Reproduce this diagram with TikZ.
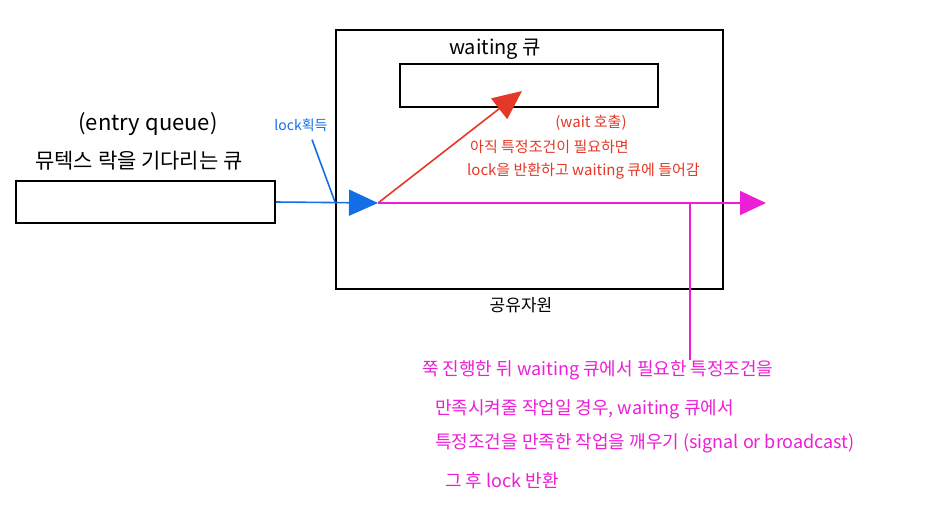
\documentclass[tikz,border=0pt]{standalone}
\usepackage{fontspec}
\setmainfont{Noto Sans CJK KR}
\usetikzlibrary{arrows.meta}
\definecolor{cblue}{RGB}{20,110,230}
\definecolor{cred}{RGB}{228,56,40}
\definecolor{cmag}{RGB}{236,30,214}
\tikzset{
  boxshape/.style={draw=black, line width=1.6pt, inner sep=0pt},
  lbl/.style={inner sep=0pt, text=black},
  redlbl/.style={inner sep=0pt, text=cred, font=\fontsize{15}{17}\selectfont, anchor=west},
  maglbl/.style={inner sep=0pt, text=cmag, font=\fontsize{18}{21}\selectfont, anchor=west},
  conn/.style={line width=1.6pt}
}
\begin{document}
\begin{tikzpicture}[x=1pt,y=-1pt]
\useasboundingbox (0,0) rectangle (951,520);
% boxes
\node[boxshape, minimum width=259pt, minimum height=42pt] (entry) at (145.5,202) {};
\node[boxshape, minimum width=387pt, minimum height=259pt] (res) at (529.5,159.5) {};
\node[boxshape, minimum width=258pt, minimum height=43pt] (wq) at (529,85.5) {};
% labels
\node[lbl, font=\fontsize{22}{24}\selectfont] (eq) at (148,124) {(entry queue)};
\node[lbl, font=\fontsize{21}{24}\selectfont] (eqk) at (139,161) {뮤텍스 락을 기다리는 큐};
\node[lbl, font=\fontsize{20}{22}\selectfont] (wql) at (495,49) {waiting 큐};
\node[lbl, font=\fontsize{17}{19}\selectfont] (resl) at (521,305) {공유자원};
\node[lbl, text=cblue, font=\fontsize{14}{16}\selectfont] (lock) at (301,125) {lock획득};
% red labels
\node[redlbl, anchor=center] (r1) at (591,123) {(wait 호출)};
\node[redlbl] (r2) at (470,147) {아직 특정조건이 필요하면};
\node[redlbl] (r3) at (467,171) {lock을 반환하고 waiting 큐에 들어감};
% magenta labels
\node[maglbl] (m1) at (422,370) {쭉 진행한 뒤 waiting 큐에서 필요한 특정조건을};
\node[maglbl] (m2) at (435,409) {만족시켜줄 작업일 경우, waiting 큐에서};
\node[maglbl] (m3) at (435,443) {특정조건을 만족한 작업을 깨우기 (signal or broadcast)};
\node[maglbl] (m4) at (445,481) {그 후 lock 반환};
% coordinates
\coordinate (btip) at (378,203);
\coordinate (mtip) at (766,203);
\coordinate (rtip) at (522,91);
\coordinate (lockpt) at (335,202);
\coordinate (mbr) at (690,203);
% connectors
\draw[conn, cblue, -{Triangle[length=29pt,width=26pt]}] (entry.east) -- (btip);
\draw[conn, cblue] (lock.south) ++(11,8) -- (lockpt);
\draw[conn, cred, -{Triangle[length=29pt,width=26pt]}] (btip) -- (rtip);
\draw[conn, cmag, -{Triangle[length=26pt,width=24pt]}] (btip) -- (mtip);
\draw[conn, cmag] (mbr) -- (mbr |- m1.north) ++(0,-6);
\end{tikzpicture}
\end{document}
